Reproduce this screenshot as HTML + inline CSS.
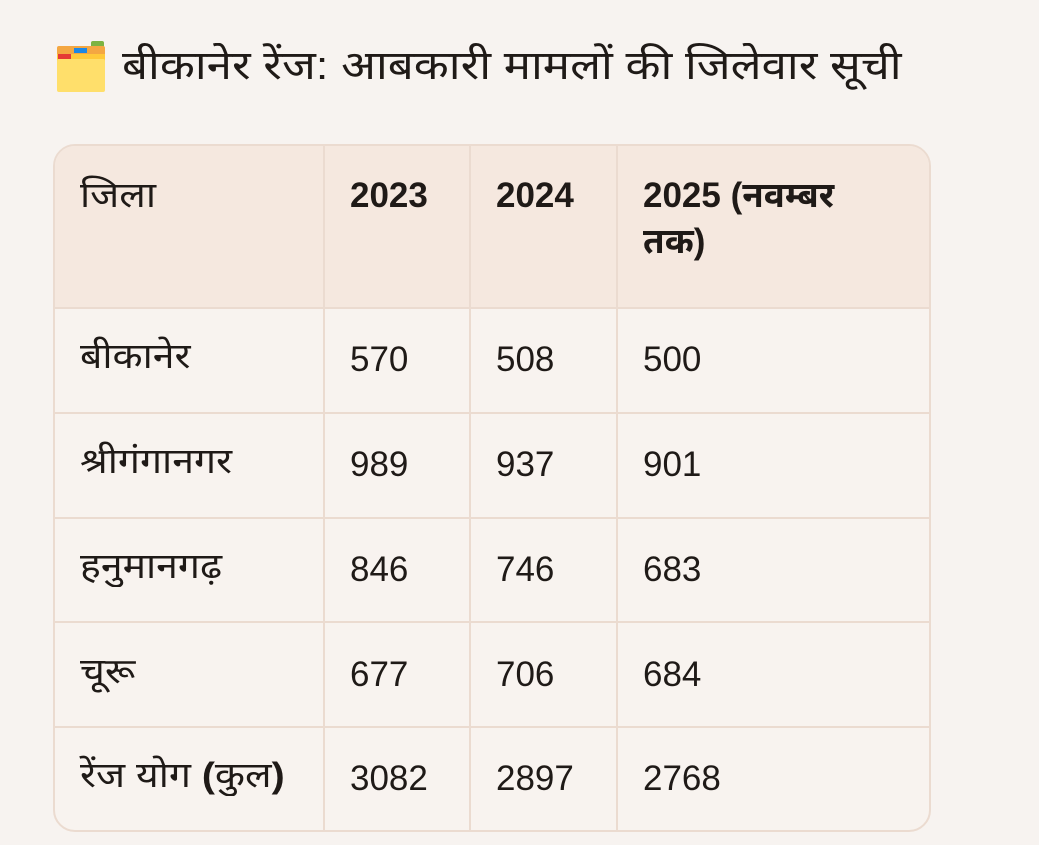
<!DOCTYPE html>
<html><head><meta charset="utf-8"><style>
body{margin:0;background:#f7f3f0;width:1039px;height:845px;overflow:hidden;font-family:"Liberation Sans","Noto Sans Devanagari","Lohit Devanagari",sans-serif;color:#1f1a17}
h1{position:absolute;left:57px;top:38px;margin:0;font-weight:normal;font-size:40px;line-height:56px;display:flex;align-items:center;white-space:nowrap}
.tt{display:inline-block;transform:scaleX(1.14);transform-origin:left center}
.ic{width:48px;height:52px;position:relative;margin-right:17px}
.ic div{position:absolute}
.tbl{position:absolute;left:53px;top:144px;width:874px;height:684px;border:2px solid #ebdbd0;border-radius:22px;overflow:hidden;background:#f8f3ef}
table{border-collapse:collapse;width:100%;height:100%;font-size:35px}
td{border:2px solid #ebdbd0;padding:0 0 0 25px;vertical-align:middle}
tr:first-child td{border-top:none;background:#f5e8df;vertical-align:top;padding-top:30px;height:131px;font-weight:bold}
tr:first-child td:first-child{font-weight:normal}
td:first-child{border-left:none}
td:last-child{border-right:none}
tr:last-child td{border-bottom:none}
.d{display:inline-block;transform:scaleX(1.12);transform-origin:left center}
</style></head><body>
<h1><span class="ic">
<div style="left:34px;top:1px;width:13px;height:8px;background:#7cb342;border-radius:2px"></div>
<div style="left:0;top:6px;width:48px;height:12px;background:#f4a742;border-radius:2px"></div>
<div style="left:17px;top:8px;width:13px;height:5px;background:#1e88e5"></div>
<div style="left:0;top:14px;width:48px;height:8px;background:#ffc93a"></div>
<div style="left:1px;top:14px;width:13px;height:5px;background:#e53935"></div>
<div style="left:0;top:19px;width:48px;height:33px;background:#ffdf6b;border-radius:2px"></div>
</span><span class="tt">बीकानेर रेंज: आबकारी मामलों की जिलेवार सूची</span></h1>
<div class="tbl"><table>
<colgroup><col style="width:269px"><col style="width:146px"><col style="width:147px"><col></colgroup>
<tr><td><span class="d">जिला</span></td><td>2023</td><td>2024</td><td>2025 (नवम्बर<br>तक)</td></tr>
<tr><td><span class="d">बीकानेर</span></td><td>570</td><td>508</td><td>500</td></tr>
<tr><td><span class="d">श्रीगंगानगर</span></td><td>989</td><td>937</td><td>901</td></tr>
<tr><td><span class="d">हनुमानगढ़</span></td><td>846</td><td>746</td><td>683</td></tr>
<tr><td><span class="d">चूरू</span></td><td>677</td><td>706</td><td>684</td></tr>
<tr><td><span class="d">रेंज योग <b>(</b>कुल<b>)</b></span></td><td>3082</td><td>2897</td><td>2768</td></tr>
</table></div>
</body></html>
